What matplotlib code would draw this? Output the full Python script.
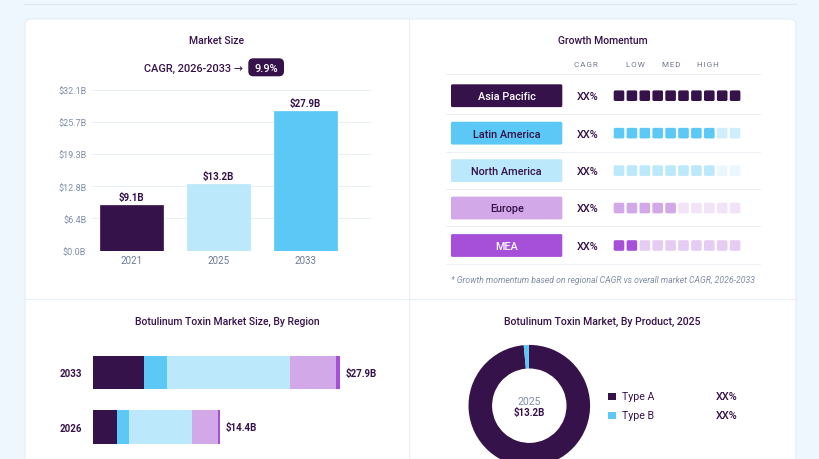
import matplotlib
matplotlib.use("Agg")
import matplotlib.pyplot as plt
from matplotlib.patches import FancyBboxPatch, Rectangle

plt.rcParams["font.family"] = ["Roboto", "DejaVu Sans"]

W, H = 820, 460

DARK = "#36124A"
BLUE = "#5BC8F5"
LIGHT = "#BBE8FA"
LAVENDER = "#D2A8E8"
PURPLE = "#A64FD8"
GREY = "#7F8DA6"
SEMI = 500

# market size
years = ["2021", "2025", "2033"]
market_size = [9.1, 13.2, 27.9]
market_labels = ["$9.1B", "$13.2B", "$27.9B"]
market_colors = [DARK, LIGHT, BLUE]
y_ticks = [0, 6.4, 12.8, 19.3, 25.7, 32.1]
y_tick_labels = ["$0.0B", "$6.4B", "$12.8B", "$19.3B", "$25.7B", "$32.1B"]

# growth momentum
regions = ["Asia Pacific", "Latin America", "North America", "Europe", "MEA"]
region_colors = [DARK, BLUE, LIGHT, LAVENDER, PURPLE]
region_text = ["white", DARK, DARK, DARK, "white"]
region_cagr = ["XX%", "XX%", "XX%", "XX%", "XX%"]
filled_squares = [10, 8, 8, 5, 2]
faded_colors = ["#36124A", "#CDEEFA", "#EAF7FD", "#F2E3F8", "#E5CCF2"]

# by region
stack_years = ["2033", "2026"]
stack_totals = ["$27.9B", "$14.4B"]
asia_pacific = [5.73, 2.68]
latin_america = [2.56, 1.36]
north_america = [13.95, 7.12]
europe = [5.2, 2.9]
mea = [0.45, 0.3]

# by product
products = ["Type A", "Type B"]
product_share = [98.7, 1.3]
product_colors = [DARK, BLUE]
product_labels = ["XX%", "XX%"]


def px_axes(fig, left, top, right, bottom):
    ax = fig.add_axes([left / W, 1 - bottom / H, (right - left) / W, (bottom - top) / H])
    ax.patch.set_alpha(0)
    return ax


def round_box(ax, x0, y0, x1, y1, color, r=1.5, **kw):
    ax.add_patch(FancyBboxPatch((x0 + r, y0 + r), x1 - x0 - 2 * r, y1 - y0 - 2 * r,
                                boxstyle=f"round,pad={r},rounding_size={r}",
                                fc=color, ec="none", **kw))


fig = plt.figure(figsize=(W / 100, H / 100), dpi=100, facecolor="#EFF7FE")

# page, card and titles in pixel coordinates
bg = fig.add_axes([0, 0, 1, 1])
bg.set_xlim(0, W)
bg.set_ylim(H, 0)
bg.axis("off")
bg.plot([24, 796], [4.5, 4.5], color="#DCE8F3", lw=0.9)
bg.add_patch(FancyBboxPatch((31, 26), 759, 460, boxstyle="round,pad=6,rounding_size=6",
                            fc="white", ec="#E3EDF6", lw=0.8))
bg.plot([409.5, 409.5], [20, H], color="#E9EEF4", lw=0.8)
bg.plot([25, 796], [299.5, 299.5], color="#E9EEF4", lw=0.8)

for text, x, y, size in [("Market Size", 217, 41.5, 7.5), ("Growth Momentum", 602.7, 41.5, 7.5),
                         ("Botulinum Toxin Market Size, By Region", 227, 321.5, 7.5),
                         ("Botulinum Toxin Market, By Product, 2025", 602.7, 321.5, 7.6)]:
    bg.text(x, y, text, ha="center", va="center", color=DARK, fontsize=size, fontweight=SEMI)

bg.text(243.3, 69, "CAGR, 2026-2033 →", ha="right", va="center", color=DARK,
        fontsize=7.9, fontweight=SEMI)
round_box(bg, 248.3, 59.3, 284, 77.3, DARK, r=5)
bg.text(266.2, 69, "9.9%", ha="center", va="center", color="white", fontsize=7.9, fontweight=SEMI)

# market size bars
ax = px_axes(fig, 90.7, 90.8, 371, 251.5)
ax.set_xlim(-0.471, 2.75)
ax.set_ylim(0, 32.1)
bars = ax.bar(years, market_size, width=0.72, color=market_colors, edgecolor=market_colors,
              linewidth=0.5, zorder=3)
for bar in bars:
    bar.set_joinstyle("round")
for bar, label in zip(bars, market_labels):
    ax.annotate(label, (bar.get_x() + bar.get_width() / 2, bar.get_height()), xytext=(0, 6.0),
                textcoords="offset points", ha="center", va="center", color=DARK,
                fontsize=7.0, fontweight=700)
ax.set_yticks(y_ticks, y_tick_labels)
ax.grid(axis="y", color="#EBF0F6", lw=0.8)
ax.set_axisbelow(True)
ax.tick_params(length=0)
ax.tick_params(axis="y", pad=3.2, labelsize=6.5, labelcolor=GREY)
ax.tick_params(axis="x", pad=3.0, labelsize=7, labelcolor="#6C7A92")
for spine in ax.spines.values():
    spine.set_visible(False)

# growth momentum table
for y in [75.3, 115.3, 152.7, 190.3, 227.3, 265.3]:
    bg.plot([445.7, 760], [y, y], color="#EDF0F4", lw=0.8)
for text, x in [("CAGR", 586.3), ("LOW", 635.7), ("MED", 671), ("HIGH", 708.3)]:
    bg.text(x, 65, "\u200a".join(text), ha="center", va="center", color="#6F7A8C", fontsize=5.9)

for i, region in enumerate(regions):
    yc = 96.7 + i * 37.45
    round_box(bg, 451, yc - 11.4, 562.3, yc + 11.4, region_colors[i], r=1.5)
    bg.text(506.7, yc + 0.4, region, ha="center", va="center", color=region_text[i],
            fontsize=7.8, fontweight=SEMI)
    bg.text(588, yc + 0.4, region_cagr[i], ha="center", va="center", color=DARK, fontsize=7.8,
            fontweight=SEMI)
    for k in range(10):
        x0 = 613.7 + k * 12.9
        color = region_colors[i] if k < filled_squares[i] else faded_colors[i]
        round_box(bg, x0, yc - 5.3, x0 + 10.6, yc + 5.3, color, r=1.6)

bg.text(602.7, 280.2, "* Growth momentum based on regional CAGR vs overall market CAGR, 2026-2033",
        ha="center", va="center", color=GREY, fontsize=6.2, style="italic")

# stacked bars by region
ax2 = px_axes(fig, 93.3, 346.4, 340, 454.8)
ax2.set_xlim(0, 27.9)
ax2.set_ylim(1.5, -0.5)
left = [0, 0]
for values, color in zip([asia_pacific, latin_america, north_america, europe, mea], region_colors):
    ax2.barh([0, 1], values, left=left, height=0.62, color=color)
    left = [a + b for a, b in zip(left, values)]
for i, total in enumerate(stack_totals):
    ax2.annotate(total, (left[i], i), xytext=(4.2, 0), textcoords="offset points", ha="left",
                 va="center", color=DARK, fontsize=7.0, fontweight=700, annotation_clip=False)
ax2.set_yticks([0, 1], stack_years)
ax2.set_xticks([])
ax2.tick_params(length=0, pad=7.9, labelsize=7.0, labelcolor=DARK)
for label in ax2.get_yticklabels():
    label.set_fontweight(700)
for spine in ax2.spines.values():
    spine.set_visible(False)

# donut by product
ax3 = px_axes(fig, 468.5, 345.9, 590.1, 467.5)
ax3.pie(product_share, colors=product_colors, startangle=90.6, counterclock=False, radius=1,
        wedgeprops={"width": 0.388, "edgecolor": "none"})
ax3.set_xlim(-1, 1)
ax3.set_ylim(-1, 1)
ax3.text(0, 0.08, "2025", ha="center", va="center", color=GREY, fontsize=7.6)
ax3.text(0, -0.11, "$13.2B", ha="center", va="center", color=DARK, fontsize=7.0, fontweight=700)

for i, product in enumerate(products):
    yc = 397 + i * 19
    bg.add_patch(Rectangle((608.4, yc - 3.5), 7.2, 7.2, fc=product_colors[i], ec="none"))
    bg.text(621.7, yc + 0.4, product, ha="left", va="center", color=DARK, fontsize=7.7)
    bg.text(726.3, yc + 0.4, product_labels[i], ha="center", va="center", color=DARK, fontsize=7.8,
            fontweight=SEMI)

fig.savefig("out.png", dpi=100, facecolor=fig.get_facecolor())
